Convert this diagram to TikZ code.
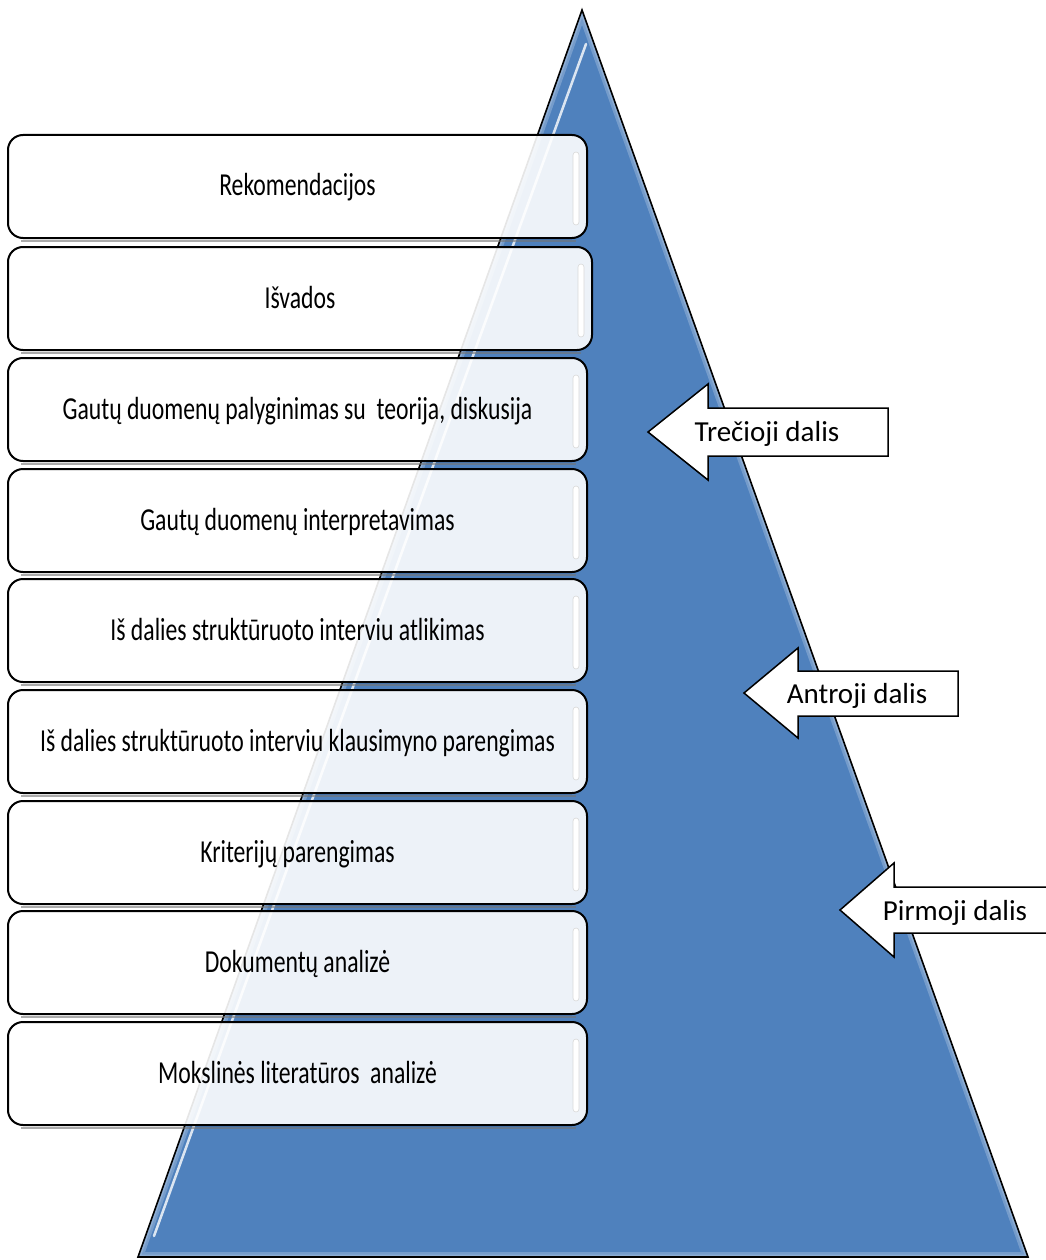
\documentclass[tikz,border=0pt]{standalone}
\usepackage{fontspec}
\setmainfont{Carlito}
\newfontfamily\condfont[FakeStretch=0.74]{Carlito}
\definecolor{triblue}{HTML}{4F81BD}
\begin{document}
\begin{tikzpicture}[x=1pt,y=-1pt,
  box/.style={draw=black, line width=2, rounded corners=15, fill=white, fill opacity=.9, text opacity=1,
    minimum width=579, minimum height=103, inner sep=0, text height=26, text depth=7,
    font=\condfont\fontsize{32}{38}\selectfont},
  hl/.style={fill=white, draw=black!15, line width=.6, rounded corners=3},
  shadowline/.style={draw=black!55, line width=2, opacity=.6},
  arrowshape/.style={draw=black, fill=white, line width=1.5, line join=miter},
  arrowlabel/.style={inner sep=0, text height=22, text depth=4, font=\fontsize{29}{34}\selectfont}]
\useasboundingbox (0,0) rectangle (1045,1260);
% pyramid
\coordinate (apex) at (582,10);
\coordinate (bl) at (138,1257);
\coordinate (br) at (1028,1257);
\fill[triblue] (apex) -- (br) -- (bl) -- cycle;
\begin{scope}
  \clip (apex) -- (br) -- (bl) -- cycle;
  \draw[white, opacity=.22, line width=10] (apex) -- (br) -- (bl) -- cycle;
  \draw[white, opacity=.18, line width=5] (apex) -- (br) -- (bl) -- cycle;
\end{scope}
\draw[white, opacity=.8, line width=2.5, line cap=round] (586,44) -- (154,1236);
\draw[black, line width=1.6, line join=miter] (apex) -- (br) -- (bl) -- cycle;
% boxes
\node[box] (b1) at (297.5,186.5) {Rekomendacijos};
\node[box, minimum width=584] (b2) at (300,298.5) {Išvados};
\node[box] (b3) at (297.5,409.5) {Gautų duomenų palyginimas su~ teorija, diskusija};
\node[box] (b4) at (297.5,520.5) {Gautų duomenų interpretavimas};
\node[box] (b5) at (297.5,630.5) {Iš dalies struktūruoto interviu atlikimas};
\node[box] (b6) at (297.5,741.5) {Iš dalies struktūruoto interviu klausimyno parengimas};
\node[box] (b7) at (297.5,852.5) {Kriterijų parengimas};
\node[box] (b8) at (297.5,962.5) {Dokumentų analizė};
\node[box] (b9) at (297.5,1073.5) {Mokslinės literatūros~ analizė};
\foreach \n in {b1,b2,b3,b4,b5,b6,b7,b8,b9}{
  \fill[hl] ([xshift=-15,yshift=-18]\n.north east) rectangle ([xshift=-9,yshift=14]\n.south east);
  \draw[shadowline] ([xshift=14,yshift=-2.2]\n.south west) -- ([xshift=-12,yshift=-2.2]\n.south east);
}
% arrows
\draw[arrowshape] (648,432) -- (708,384) -- (708,408) -- (888,408) -- (888,456) -- (708,456) -- (708,480) -- cycle;
\node[arrowlabel] (a3) at (767,432) {Trečioji dalis};
\draw[arrowshape] (744,693) -- (798,648) -- (798,671) -- (958,671) -- (958,716) -- (798,716) -- (798,738) -- cycle;
\node[arrowlabel] (a2) at (857,694) {Antroji dalis};
\draw[arrowshape] (840,910) -- (894,863) -- (894,887) -- (1070,887) -- (1070,933) -- (894,933) -- (894,957) -- cycle;
\node[arrowlabel] (a1) at (955,911) {Pirmoji dalis};
\end{tikzpicture}
\end{document}
